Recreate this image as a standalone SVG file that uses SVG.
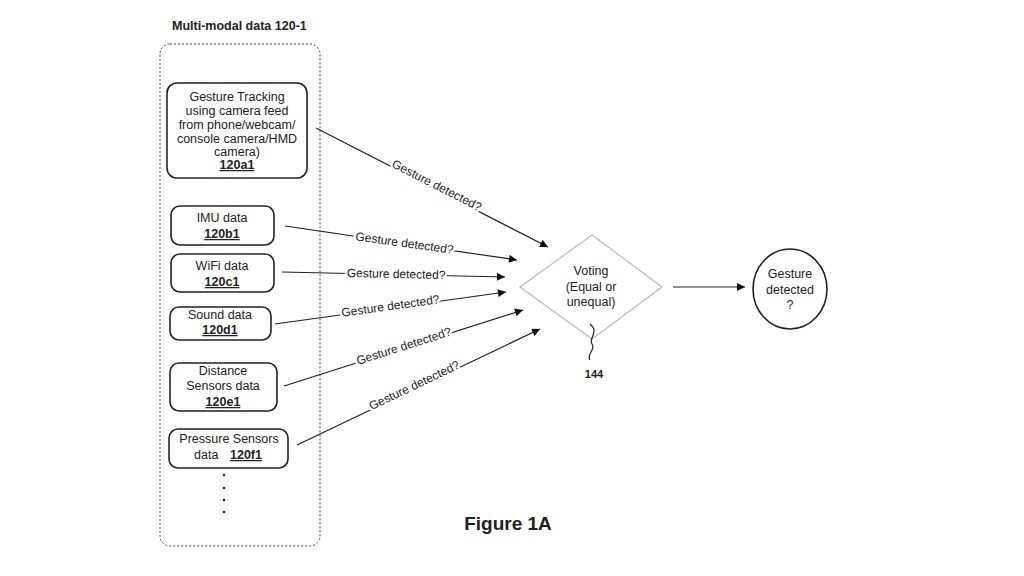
<svg xmlns="http://www.w3.org/2000/svg" width="1024" height="576" viewBox="0 0 1024 576">
<style>
text{font-family:"Liberation Sans",Arial,sans-serif;fill:#222;font-size:12.5px}
.c{text-anchor:middle}
.b{font-weight:bold;text-decoration:underline}
.box{fill:#fff;stroke:#222;stroke-width:1.6}
.ln{stroke:#222;stroke-width:1.2;fill:none}
.lb{font-size:12px;text-anchor:middle;stroke:#fff;stroke-width:5;paint-order:stroke}
</style>
<defs><marker id="ah" viewBox="0 0 10 10" refX="10" refY="5" markerWidth="10" markerHeight="8" orient="auto" markerUnits="userSpaceOnUse"><path d="M0,0L10,5L0,10z" fill="#111"/></marker></defs>
<rect width="1024" height="576" fill="#fff"/>
<text x="172" y="30" style="font-weight:bold;font-size:12.5px">Multi-modal data 120-1</text>
<rect x="160" y="44" width="160" height="502" rx="10" fill="none" stroke="#444" stroke-dasharray="2,2"/>
<g id="connectors">
<line class="ln" x1="316" y1="128" x2="548" y2="247" marker-end="url(#ah)"/>
<line class="ln" x1="285" y1="226" x2="517" y2="260" marker-end="url(#ah)"/>
<line class="ln" x1="282" y1="272" x2="505" y2="277" marker-end="url(#ah)"/>
<line class="ln" x1="275" y1="324" x2="506" y2="292" marker-end="url(#ah)"/>
<line class="ln" x1="284" y1="386" x2="523" y2="310" marker-end="url(#ah)"/>
<line class="ln" x1="297" y1="445" x2="540" y2="329" marker-end="url(#ah)"/>
<line class="ln" x1="673" y1="287" x2="745" y2="287" marker-end="url(#ah)"/>
<text class="lb" transform="translate(435,189) rotate(27)">Gesture detected?</text>
<text class="lb" transform="translate(404,247) rotate(8)">Gesture detected?</text>
<text class="lb" transform="translate(396,278) rotate(1.3)">Gesture detected?</text>
<text class="lb" transform="translate(391,310) rotate(-8)">Gesture detected?</text>
<text class="lb" transform="translate(405,350) rotate(-17.6)">Gesture detected?</text>
<text class="lb" transform="translate(416,389) rotate(-25.5)">Gesture detected?</text>
</g>
<g id="n120a1"><rect class="box" x="167" y="83" width="140" height="95" rx="10"/>
<text class="c" x="237" y="101">Gesture Tracking</text><text class="c" x="237" y="115">using camera feed</text><text class="c" x="237" y="129">from phone/webcam/</text><text class="c" x="237" y="143">console camera/HMD</text><text class="c" x="237" y="156">camera)</text><text class="c b" x="237" y="169">120a1</text></g>
<g id="n120b1"><rect class="box" x="171" y="206" width="103" height="39" rx="9"/><text class="c" x="222" y="222">IMU data</text><text class="c b" x="222" y="238">120b1</text></g>
<g id="n120c1"><rect class="box" x="171" y="254" width="103" height="38" rx="9"/><text class="c" x="222" y="270">WiFi data</text><text class="c b" x="222" y="286">120c1</text></g>
<g id="n120d1"><rect class="box" x="170" y="307" width="101" height="33" rx="9"/><text class="c" x="220" y="319">Sound data</text><text class="c b" x="220" y="334">120d1</text></g>
<g id="n120e1"><rect class="box" x="170" y="363" width="107" height="48" rx="9"/><text class="c" x="223" y="375">Distance</text><text class="c" x="223" y="390">Sensors data</text><text class="c b" x="223" y="406">120e1</text></g>
<g id="n120f1"><rect class="box" x="169" y="429" width="119" height="39" rx="9"/><text class="c" x="229" y="443">Pressure Sensors</text><text x="194" y="459">data</text><text class="b" x="230" y="459">120f1</text></g>
<g id="dots" fill="#222"><circle cx="224" cy="475" r="1.3"/><circle cx="224" cy="488" r="1.3"/><circle cx="224" cy="500" r="1.3"/><circle cx="224" cy="512" r="1.3"/></g>
<g id="voting"><polygon points="592,235 662,287 592,339 520,287" fill="#fff" stroke="#bbb" stroke-width="1.2"/>
<text class="c" x="591" y="275">Voting</text><text class="c" x="591" y="291">(Equal or</text><text class="c" x="591" y="306">unequal)</text>
<path class="ln" d="M590,324 C600,332 588,338 592,344 C596,350 586,354 590,360"/>
<text class="c" x="594" y="378" style="font-weight:bold;font-size:11px">144</text></g>
<g id="result"><ellipse cx="790" cy="289" rx="37" ry="40" fill="#fff" stroke="#222" stroke-width="1.6"/>
<text class="c" x="790" y="278">Gesture</text><text class="c" x="790" y="294">detected</text><text class="c" x="790" y="309">?</text></g>
<text x="508" y="530" class="c" style="font-weight:bold;font-size:19px">Figure 1A</text>
</svg>
